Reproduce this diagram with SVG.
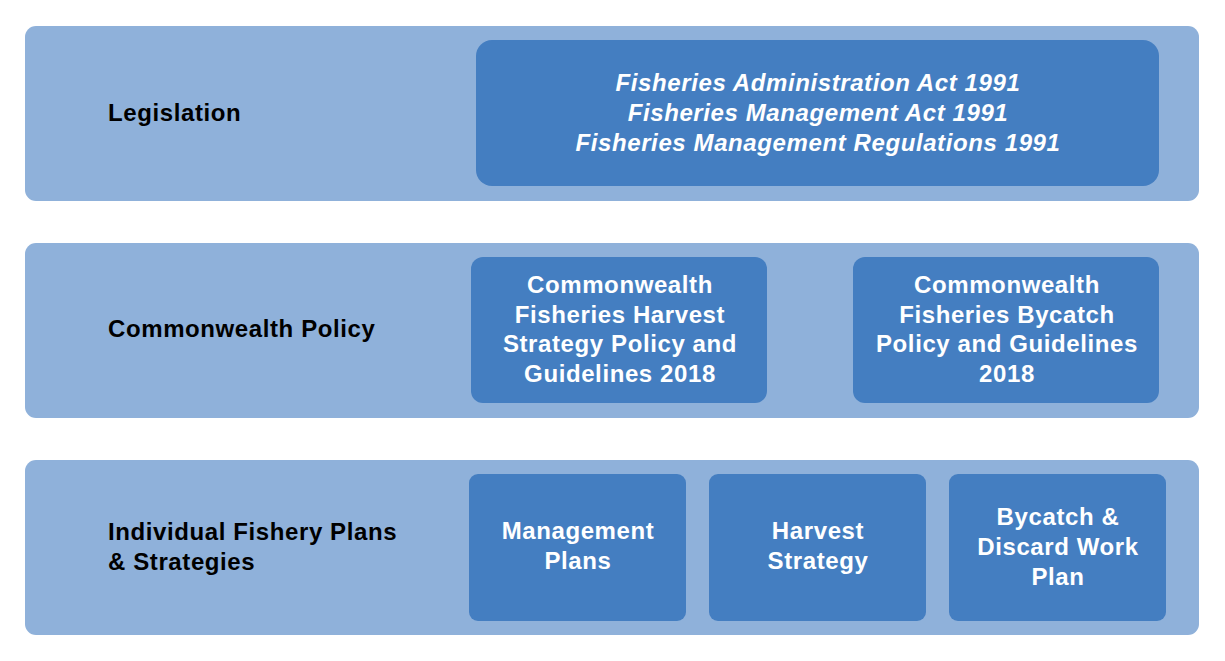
<svg xmlns="http://www.w3.org/2000/svg" width="1225" height="661" viewBox="0 0 1225 661">
<style>
.row{fill:#8FB1DA}
.box{fill:#447EC1}
text{font-family:"Liberation Sans",Arial,sans-serif;font-size:24px;font-weight:bold;letter-spacing:0.6px}
.lbl{fill:#000}
.in{fill:#fff;text-anchor:middle}
.it{font-style:italic}
</style>
<rect width="1225" height="661" fill="#fff"/>
<g id="connectors"></g>
<g id="row-legislation">
<rect class="row" x="25" y="26" width="1174" height="175" rx="11"/>
<text class="lbl" x="108" y="121">Legislation</text>
</g>
<g id="node-acts">
<rect class="box" x="476" y="40" width="683" height="146" rx="16"/>
<text class="in it" x="818" y="91">Fisheries Administration Act 1991</text>
<text class="in it" x="818" y="121">Fisheries Management Act 1991</text>
<text class="in it" x="818" y="151">Fisheries Management Regulations 1991</text>
</g>
<g id="row-policy">
<rect class="row" x="25" y="243" width="1174" height="175" rx="11"/>
<text class="lbl" x="108" y="337">Commonwealth Policy</text>
</g>
<g id="node-harvest-policy">
<rect class="box" x="471" y="257" width="296" height="146" rx="12"/>
<text class="in" x="620" y="293">Commonwealth</text>
<text class="in" x="620" y="323">Fisheries Harvest</text>
<text class="in" x="620" y="352">Strategy Policy and</text>
<text class="in" x="620" y="382">Guidelines 2018</text>
</g>
<g id="node-bycatch-policy">
<rect class="box" x="853" y="257" width="306" height="146" rx="12"/>
<text class="in" x="1007" y="293">Commonwealth</text>
<text class="in" x="1007" y="323">Fisheries Bycatch</text>
<text class="in" x="1007" y="352">Policy and Guidelines</text>
<text class="in" x="1007" y="382">2018</text>
</g>
<g id="row-plans">
<rect class="row" x="25" y="460" width="1174" height="175" rx="11"/>
<text class="lbl" x="108" y="540">Individual Fishery Plans</text>
<text class="lbl" x="108" y="570">&amp; Strategies</text>
</g>
<g id="node-management-plans">
<rect class="box" x="469" y="474" width="217" height="147" rx="9"/>
<text class="in" x="578" y="539">Management</text>
<text class="in" x="578" y="569">Plans</text>
</g>
<g id="node-harvest-strategy">
<rect class="box" x="709" y="474" width="217" height="147" rx="9"/>
<text class="in" x="818" y="539">Harvest</text>
<text class="in" x="818" y="569">Strategy</text>
</g>
<g id="node-bycatch-plan">
<rect class="box" x="949" y="474" width="217" height="147" rx="9"/>
<text class="in" x="1058" y="525">Bycatch &amp;</text>
<text class="in" x="1058" y="555">Discard Work</text>
<text class="in" x="1058" y="585">Plan</text>
</g>
</svg>
